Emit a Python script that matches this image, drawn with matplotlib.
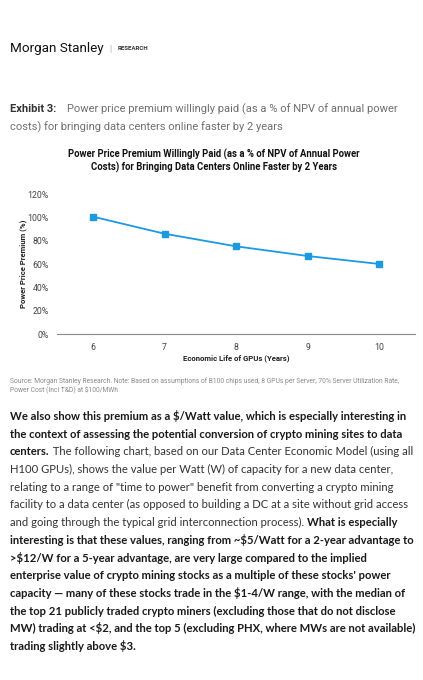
import matplotlib
matplotlib.use("Agg")
import matplotlib.pyplot as plt

# data
gpu_life = [6, 7, 8, 9, 10]
premium = [100.8, 86.2, 75.4, 67.1, 60.3]
y_ticks = [0, 20, 40, 60, 80, 100, 120]

header_name = "Morgan Stanley"
header_tag = "RESEARCH"
exhibit_label = "Exhibit 3:"
exhibit_lines = ["Power price premium willingly paid (as a % of NPV of annual power",
                 "costs) for bringing data centers online faster by 2 years"]
chart_title = ("Power Price Premium Willingly Paid (as a % of NPV of Annual Power\n"
               "Costs) for Bringing Data Centers Online Faster by 2 Years")
x_label = "Economic Life of GPUs (Years)"
y_label = "Power Price Premium (%)"
source_lines = ["Source: Morgan Stanley Research. Note: Based on assumptions of B100 chips used, 8 GPUs per Server, 70% Server Utilization Rate,",
                "Power Cost (Incl T&D) at $100/MWh"]

# body paragraph: each line is a list of (text, bold)
body_lines = [
    [("We also show this premium as a $/Watt value, which is especially interesting in", True)],
    [("the context of assessing the potential conversion of crypto mining sites to data", True)],
    [("centers.", True), (" The following chart, based on our Data Center Economic Model (using all", False)],
    [("H100 GPUs), shows the value per Watt (W) of capacity for a new data center,", False)],
    [("relating to a range of \"time to power\" benefit from converting a crypto mining", False)],
    [("facility to a data center (as opposed to building a DC at a site without grid access", False)],
    [("and going through the typical grid interconnection process). ", False), ("What is especially", True)],
    [("interesting is that these values, ranging from ~$5/Watt for a 2-year advantage to", True)],
    [(">$12/W for a 5-year advantage, are very large compared to the implied", True)],
    [("enterprise value of crypto mining stocks as a multiple of these stocks' power", True)],
    [("capacity \u2014 many of these stocks trade in the $1-4/W range, with the median of", True)],
    [("the top 21 publicly traded crypto miners (excluding those that do not disclose", True)],
    [("MW) trading at <$2, and the top 5 (excluding PHX, where MWs are not available)", True)],
    [("trading slightly above $3.", True)],
]

W, H = 423, 680
fig = plt.figure(figsize=(W / 100, H / 100), dpi=100)
fig.patch.set_facecolor("white")
renderer = fig.canvas.get_renderer()

def fy(py):
    return 1 - py / H

def fx(px):
    return px / W

def runs(x_px, y_px, parts, size, family, colors=("#222222", "#222222")):
    # draw text pieces one after another on the same baseline
    x = fx(x_px)
    for txt, bold in parts:
        t = fig.text(x, fy(y_px), txt, fontsize=size, family=family,
                     fontweight="bold" if bold else "normal",
                     color=colors[0] if bold else colors[1], va="baseline", ha="left")
        bb = t.get_window_extent(renderer=renderer)
        x = bb.x1 / W
    return x * W

def text_width(parts, size, family):
    w = 0
    for txt, bold in parts:
        t = fig.text(0, 0, txt, fontsize=size, family=family, fontweight="bold" if bold else "normal")
        w += t.get_window_extent(renderer=renderer).width
        t.remove()
    return w

# header
fig.text(fx(10), fy(52), header_name, fontsize=9.7, family="Roboto", color="#111111", va="baseline")
fig.text(fx(109), fy(52), "|", fontsize=6.5, family="Roboto", color="#aaaaaa", va="baseline")
fig.text(fx(118), fy(50.5), header_tag, fontsize=4.4, family="Roboto", fontweight="bold",
         color="#333333", va="baseline")

# exhibit caption
runs(10, 112, [(exhibit_label, True), ("    " + exhibit_lines[0], False)], 8.05, "Roboto",
     colors=("#333333", "#6f6f6f"))
fig.text(fx(10), fy(130), exhibit_lines[1], fontsize=8.05, family="Roboto", color="#6f6f6f", va="baseline")

# chart
ax_left, ax_right, ax_top, ax_bot = 57.3, 415, 194.3, 334.3
ax = fig.add_axes([fx(ax_left), fy(ax_bot), fx(ax_right) - fx(ax_left), fy(ax_top) - fy(ax_bot)])
ax.plot(gpu_life, premium, color="#1b9ae0", linewidth=1.3, marker="s", markersize=5,
        markerfacecolor="#1b9ae0", markeredgecolor="#1b9ae0")
ax.set_xlim(5.5, 10.5)
ax.set_ylim(0, 120)
ax.set_xticks(gpu_life)
ax.set_xticklabels([str(v) for v in gpu_life])
ax.set_yticks(y_ticks)
ax.set_yticklabels([f"{v}%" for v in y_ticks])
for s in ["top", "right", "left"]:
    ax.spines[s].set_visible(False)
ax.spines["bottom"].set_color("#8a8a8a")
ax.spines["bottom"].set_linewidth(0.8)
ax.tick_params(length=0, labelsize=6.3, colors="#444444", pad=6)
ax.tick_params(axis="y", pad=6)
for lab in ax.get_xticklabels() + ax.get_yticklabels():
    lab.set_family("Roboto")
ax.set_xlabel(x_label, fontsize=5.6, family="Roboto", fontweight="bold", color="#222222", va="center")
ax.xaxis.set_label_coords(0.5, (ax_bot - 358) / (ax_bot - ax_top))
ax.set_ylabel(y_label, fontsize=5.6, family="Roboto", fontweight="bold", color="#222222", va="center")
ax.yaxis.set_label_coords((22.7 - ax_left) / (ax_right - ax_left), (ax_bot - 264) / (ax_bot - ax_top))

# chart title centred on the page
fig.text(fx(214), fy(158), chart_title.split("\n")[0], fontsize=6.85, family="Roboto",
         fontweight="bold", color="#111111", ha="center", va="baseline")
fig.text(fx(214), fy(170.5), chart_title.split("\n")[1], fontsize=6.85, family="Roboto",
         fontweight="bold", color="#111111", ha="center", va="baseline")

# source note
for i, line in enumerate(source_lines):
    fig.text(fx(10), fy(383 + 9.5 * i), line, fontsize=4.9, family="Roboto", color="#8a8a8a", va="baseline")

# body paragraph, size fitted so the widest line spans like the reference
base = 10
size = base * 407 / text_width(body_lines[12], base, "Lato")
for i, parts in enumerate(body_lines):
    runs(10, 420 + 17.7 * i, parts, size, "Lato", colors=("#1a1a1a", "#333333"))

fig.savefig("out.png", dpi=100)
